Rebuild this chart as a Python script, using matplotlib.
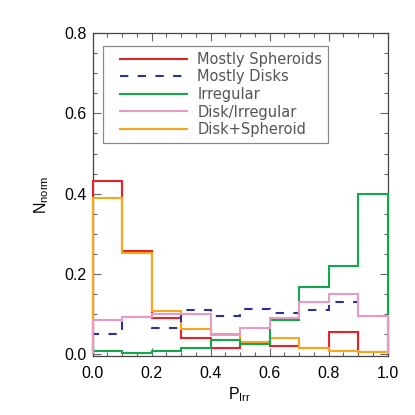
import matplotlib
matplotlib.use("Agg")
import matplotlib.pyplot as plt
import numpy as np
from matplotlib.ticker import MultipleLocator, FormatStrFormatter
from matplotlib.legend_handler import HandlerLine2D

edges = [0.0, 0.1, 0.2, 0.3, 0.4, 0.5, 0.6, 0.7, 0.8, 0.9, 1.0]
labels = ["Mostly Spheroids", "Mostly Disks", "Irregular", "Disk/Irregular", "Disk+Spheroid"]
spheroids = [0.432, 0.257, 0.091, 0.040, 0.016, 0.024, 0.021, 0.016, 0.055, 0.006]
disks = [0.051, 0.093, 0.066, 0.109, 0.096, 0.113, 0.103, 0.109, 0.130, 0.094]
irregular = [0.008, 0.003, 0.008, 0.014, 0.035, 0.025, 0.086, 0.166, 0.220, 0.398]
disk_irr = [0.084, 0.092, 0.099, 0.100, 0.048, 0.064, 0.091, 0.131, 0.150, 0.095]
disk_sph = [0.388, 0.253, 0.107, 0.062, 0.051, 0.030, 0.040, 0.014, 0.007, 0.006]

colors = {"Mostly Spheroids": "#ec2027", "Mostly Disks": "#2e3192",
          "Irregular": "#12a84b", "Disk/Irregular": "#e899c4",
          "Disk+Spheroid": "#faa61a"}

plt.rcParams['font.family'] = ['Liberation Sans', 'DejaVu Sans']
plt.rcParams['mathtext.fontset'] = 'custom'
plt.rcParams['mathtext.rm'] = 'Liberation Sans'

fig = plt.figure(figsize=(4.15, 4.15), dpi=100)
ax = fig.add_axes([0.223, 0.142, 0.711, 0.778])

series = {"Mostly Spheroids": spheroids, "Mostly Disks": disks, "Irregular": irregular,
          "Disk/Irregular": disk_irr, "Disk+Spheroid": disk_sph}
order = ["Mostly Spheroids", "Disk+Spheroid", "Mostly Disks", "Irregular", "Disk/Irregular"]
handles = {}
for i, name in enumerate(order):
    ls = (0, (4, 4.5)) if name == "Mostly Disks" else '-'
    ax.stairs(series[name], edges, baseline=0, color=colors[name], lw=1.5,
              linestyle=ls, zorder=3 + i, clip_on=False)
    handles[name] = plt.Line2D([], [], color=colors[name], lw=1.5, linestyle=ls)

ax.set_xlim(0, 1)
ax.set_ylim(-0.005, 0.8)
ax.xaxis.set_major_locator(MultipleLocator(0.2))
ax.xaxis.set_minor_locator(MultipleLocator(0.05))
ax.yaxis.set_major_locator(MultipleLocator(0.2))
ax.yaxis.set_minor_locator(MultipleLocator(0.05))
ax.xaxis.set_major_formatter(FormatStrFormatter('%.1f'))
ax.yaxis.set_major_formatter(FormatStrFormatter('%.1f'))
ax.tick_params(which='both', direction='in', top=True, right=True, color='#666666',
               labelsize=11.5, labelcolor='black')
ax.tick_params(which='major', length=6, width=0.8)
ax.tick_params(which='minor', length=3, width=0.8)
ax.tick_params(axis='x', pad=7)
ax.tick_params(axis='y', pad=4)
for sp in ax.spines.values():
    sp.set_color('#444444')
    sp.set_linewidth(0.9)

ax.set_xlabel(r'$\mathregular{P_{Irr}}$', fontsize=11.5)
ax.set_ylabel(r'$\mathregular{N_{norm}}$', fontsize=11.5)
ax.xaxis.set_label_coords(0.5, -0.09)
ax.yaxis.set_label_coords(-0.14, 0.5)

hmap = {h: HandlerLine2D(numpoints=2, marker_pad=0.74) for h in handles.values()}
leg = ax.legend([handles[n] for n in labels], labels, loc='upper left',
                bbox_to_anchor=(0.036, 0.961), borderaxespad=0, fancybox=False,
                edgecolor='#888888', fontsize=10.5, handlelength=6.06,
                handletextpad=0.0, labelspacing=0.18, borderpad=0.4,
                framealpha=1, handler_map=hmap)
leg.get_frame().set_linewidth(0.9)
for t in leg.get_texts():
    t.set_color('#555555')
    t.set_family(['DejaVu Sans'])

fig.savefig('out.png', dpi=100)
